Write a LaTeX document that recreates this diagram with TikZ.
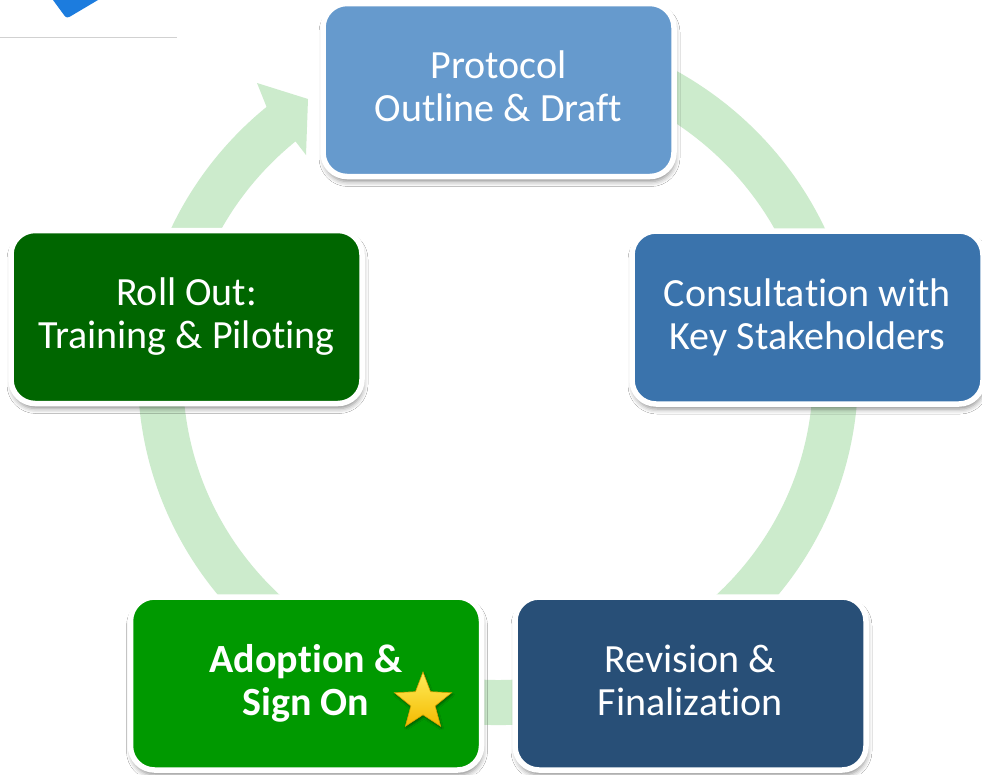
\documentclass[tikz,border=0pt]{standalone}
\usepackage{fontspec}
\setmainfont{Carlito}[RawFeature={-liga;-clig;-calt;-dlig}]
\newcommand\brk{\kern0pt}
\usetikzlibrary{shapes.geometric,shadows.blur}
\definecolor{ringc}{RGB}{204,235,204}
\definecolor{cTop}{RGB}{102,154,205}
\definecolor{cRight}{RGB}{58,115,172}
\definecolor{cBR}{RGB}{40,79,119}
\definecolor{cBL}{RGB}{0,153,0}
\definecolor{cLeft}{RGB}{0,102,0}
\definecolor{cBlue}{RGB}{28,124,222}
\definecolor{starTop}{RGB}{255,236,90}
\definecolor{starBot}{RGB}{244,186,0}
\definecolor{starLine}{RGB}{214,160,0}
\begin{document}
\begin{tikzpicture}[x=1pt,y=-1pt,
  stagebox/.style={draw=white, line width=5.5pt, rounded corners=24pt,
    minimum width=351pt, minimum height=173pt, text=white, align=center,
    inner sep=0pt, font=\fontsize{40}{43}\selectfont,
    blur shadow={shadow xshift=1pt, shadow yshift=-5pt,
      shadow blur radius=5pt, shadow opacity=45}},
  starmark/.style={star, star points=5, star point ratio=2.35,
    minimum size=60pt, inner sep=0pt, draw=starLine, line width=0.6pt,
    top color=starTop, bottom color=starBot,
    blur shadow={shadow xshift=1pt, shadow yshift=-2pt,
      shadow blur radius=2pt, shadow opacity=40}}
]
\useasboundingbox (0,0) rectangle (982,774);
\fill[white] (0,0) rectangle (982,774);

% corner decoration
\fill[cBlue] (53,0) -- (64,15) .. controls (66,18) and (68,18) .. (71,16) -- (98,0) -- cycle;
\draw[black!18, line width=1pt] (0,37) -- (177,37);

% cycle ring with arrowhead
\fill[ringc] ({498+360*cos(-78)},{375+350*sin(-78)})
  arc[start angle=-78, end angle=230, x radius=360, y radius=350]
  -- (257,83) -- (308,99) -- (306,155)
  -- ({498+315*cos(230)},{375+305*sin(230)})
  arc[start angle=230, end angle=-78, x radius=315, y radius=305]
  -- cycle;

% stages
\node[stagebox, fill=cTop]   (protocol) at (498.5,90)  {Protocol\\Outline \& Draft\vphantom{g}};
\node[stagebox, fill=cRight] (consult)  at (807.5,317.5) {Consulta\brk tion with\\Key Stakeholders};
\node[stagebox, fill=cBR]    (revision) at (690.5,683.5) {Revision \&\\Finaliza\brk tion\vphantom{g}};
\node[stagebox, fill=cBL]    (adoption) at (306,683.5) {\bfseries Adop\brk tion \&\\\bfseries Sign On};
\node[stagebox, fill=cLeft]  (rollout)  at (186.5,317) {Roll Out:\\Training \& Pilo\brk ting};

\node[starmark] (star) at (423,702) {};
\end{tikzpicture}
\end{document}
